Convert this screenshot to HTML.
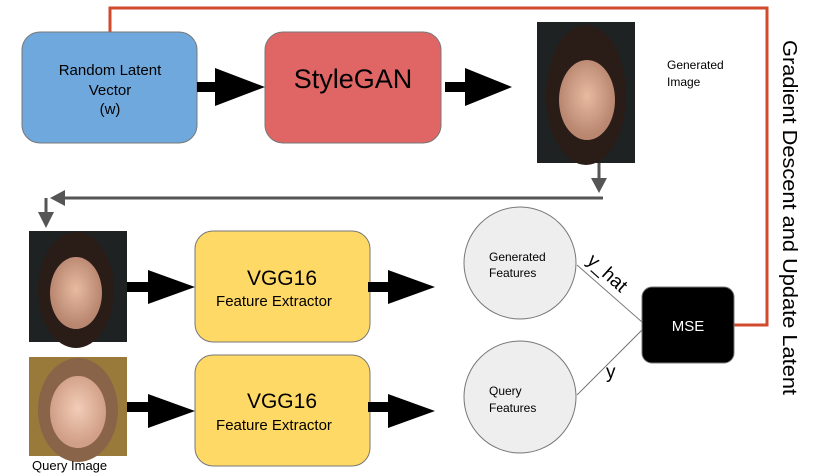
<!DOCTYPE html>
<html><head><style>body{margin:0;background:#fff}svg{display:block}</style></head><body>
<svg width="814" height="476" viewBox="0 0 814 476" xmlns="http://www.w3.org/2000/svg" font-family="Liberation Sans, sans-serif">
<defs>
<radialGradient id="skin" cx="50%" cy="45%" r="50%"><stop offset="0" stop-color="#e7bba0"/><stop offset="1" stop-color="#b98670"/></radialGradient>
<radialGradient id="skin2" cx="50%" cy="45%" r="50%"><stop offset="0" stop-color="#f2cdb8"/><stop offset="1" stop-color="#d19e86"/></radialGradient>
</defs>
<polyline points="110,32 110,8 767,8 767,325 734,325" fill="none" stroke="#d24a2c" stroke-width="3"/>
<rect x="22" y="32" width="175" height="111" rx="18" fill="#6fa8dc" stroke="#777" stroke-width="1"/>
<text x="110" y="75" font-size="15" text-anchor="middle">Random Latent</text>
<text x="110" y="95" font-size="15" text-anchor="middle">Vector</text>
<text x="110" y="114" font-size="15" text-anchor="middle">(w)</text>
<rect x="265" y="32" width="176" height="111" rx="18" fill="#e06666" stroke="#777" stroke-width="1"/>
<text x="353" y="88" font-size="27" text-anchor="middle">StyleGAN</text>
<rect x="197" y="82" width="20" height="10"/><polygon points="215,68 265,87 215,106"/>
<rect x="445" y="82" width="22" height="10"/><polygon points="465,68 512,87 465,106"/>
<rect x="537" y="22" width="98" height="141" fill="#1e2222"/>
<ellipse cx="586" cy="95" rx="40" ry="70" fill="#2a1c16"/>
<ellipse cx="587" cy="100" rx="28" ry="40" fill="url(#skin)"/>
<text x="667" y="69" font-size="12">Generated</text>
<text x="667" y="86" font-size="12">Image</text>
<line x1="599" y1="163" x2="599" y2="180" stroke="#555" stroke-width="3"/>
<polygon points="591,178 607,178 599,193" fill="#555"/>
<line x1="603" y1="198" x2="60" y2="198" stroke="#555" stroke-width="3"/>
<polygon points="65,190 50,198 65,206" fill="#555"/>
<line x1="46" y1="198" x2="46" y2="215" stroke="#555" stroke-width="3"/>
<polygon points="38,212 54,212 46,228" fill="#555"/>
<rect x="29" y="231" width="98" height="111" fill="#1e2222"/>
<ellipse cx="76" cy="290" rx="38" ry="58" fill="#2a1c16"/>
<ellipse cx="76" cy="293" rx="26" ry="36" fill="url(#skin)"/>
<rect x="29" y="357" width="98" height="99" fill="#9a7a3a"/>
<ellipse cx="78" cy="410" rx="40" ry="52" fill="#8a6448"/>
<ellipse cx="78" cy="412" rx="28" ry="36" fill="url(#skin2)"/>
<text x="32" y="470" font-size="13">Query Image</text>
<rect x="195" y="231" width="175" height="111" rx="18" fill="#ffd966" stroke="#777" stroke-width="1"/>
<text x="282" y="285" font-size="21" text-anchor="middle">VGG16</text>
<text x="274" y="306" font-size="15" text-anchor="middle">Feature Extractor</text>
<rect x="195" y="355" width="175" height="111" rx="18" fill="#ffd966" stroke="#777" stroke-width="1"/>
<text x="282" y="408" font-size="21" text-anchor="middle">VGG16</text>
<text x="274" y="430" font-size="15" text-anchor="middle">Feature Extractor</text>
<rect x="127" y="282" width="23" height="10"/><polygon points="148,270 195,287 148,304"/>
<rect x="368" y="282" width="22" height="10"/><polygon points="388,270 435,287 388,304"/>
<rect x="127" y="402" width="23" height="10"/><polygon points="148,394 195,411 148,428"/>
<rect x="368" y="402" width="22" height="10"/><polygon points="388,394 435,411 388,428"/>
<circle cx="520" cy="263" r="56" fill="#eeeeee" stroke="#777"/>
<text x="489" y="261" font-size="12">Generated</text>
<text x="489" y="277" font-size="12">Features</text>
<circle cx="520" cy="397" r="56" fill="#eeeeee" stroke="#777"/>
<text x="489" y="395" font-size="12">Query</text>
<text x="489" y="412" font-size="12">Features</text>
<line x1="577" y1="265" x2="642" y2="322" stroke="#777" stroke-width="1"/>
<line x1="577" y1="395" x2="642" y2="330" stroke="#777" stroke-width="1"/>
<text x="0" y="0" font-size="19" transform="translate(586,262) rotate(42)">y_hat</text>
<text x="606" y="378" font-size="19">y</text>
<rect x="642" y="287" width="92" height="76" rx="10" fill="#000" stroke="#777"/>
<text x="688" y="331" font-size="15" fill="#fff" text-anchor="middle">MSE</text>
<text x="0" y="0" font-size="20" textLength="355" lengthAdjust="spacingAndGlyphs" transform="translate(783,40) rotate(90)">Gradient Descent and Update Latent</text>
</svg>
</body></html>
